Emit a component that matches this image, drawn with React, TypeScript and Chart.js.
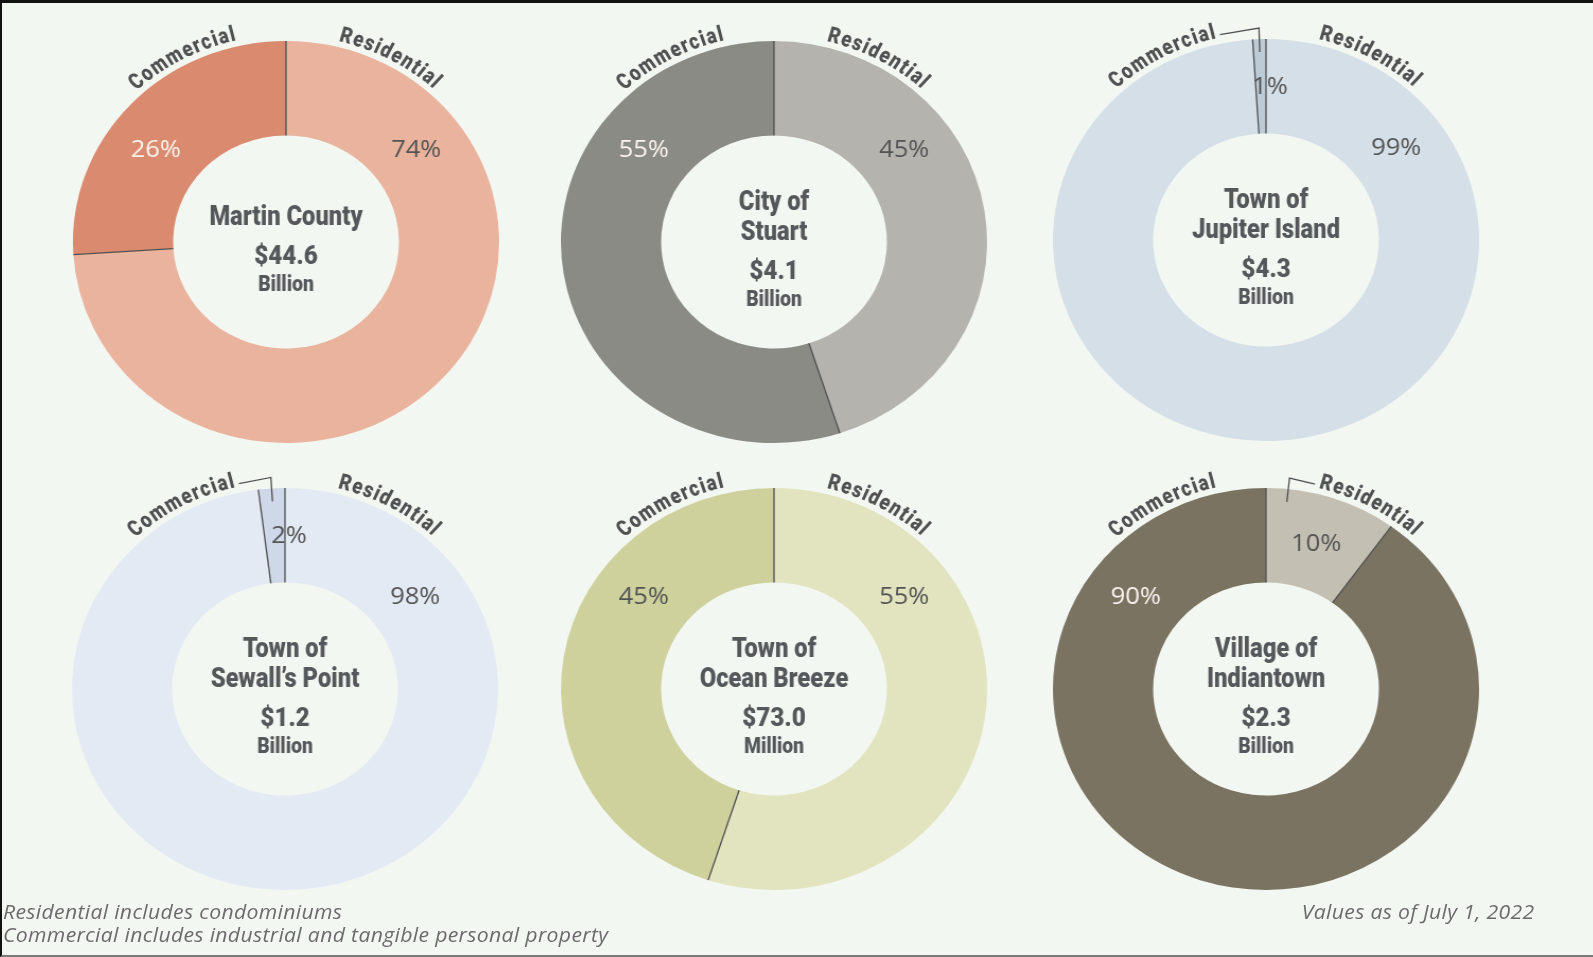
import React, { useEffect, useRef } from "react";
import { Chart, registerables } from "chart.js";

Chart.register(...registerables);

// ---------- data ----------
const segmentNames = ["Residential", "Commercial"];
const placeNameLines = [
  ["Martin County"],
  ["City of", "Stuart"],
  ["Town of", "Jupiter Island"],
  ["Town of", "Sewall\u2019s Point"],
  ["Town of", "Ocean Breeze"],
  ["Village of", "Indiantown"],
];
const totalAmounts = ["$44.6", "$4.1", "$4.3", "$1.2", "$73.0", "$2.3"];
const totalUnits = ["Billion", "Billion", "Billion", "Billion", "Million", "Billion"];
const residentialPct = [74, 45, 99, 98, 55, 10];
const commercialPct = [26, 55, 1, 2, 45, 90];
const footnoteLines = [
  "Residential includes condominiums",
  "Commercial includes industrial and tangible personal property",
];
const asOfNote = "Values as of July 1, 2022";

// ---------- styles / layout ----------
const residentialColors = ["#e9b39d", "#b5b3ad", "#d5dfe7", "#e4eaf4", "#e2e3bf", "#c4bfb3"];
const commercialColors = ["#d98a6f", "#8b8b85", "#bdcbd7", "#cfd8e9", "#cfd19d", "#7b7361"];
const chartCenters = [
  [285.5, 242],
  [774, 242],
  [1266, 240],
  [285, 689],
  [774, 689],
  [1266, 689],
];
const CANVAS = 480;
const STRETCH = 1.06;
const NARROW = 'Roboto, "DejaVu Sans", sans-serif';
const TEXT_DARK = "#55585a";
const LINE_COLOR = "#4f5151";
const DEG = Math.PI / 180;

function luminance(hex: string) {
  const n = parseInt(hex.slice(1), 16);
  const r = (n >> 16) & 255, g = (n >> 8) & 255, b = n & 255;
  return 0.299 * r + 0.587 * g + 0.114 * b;
}

function polar(cx: number, cy: number, r: number, a: number) {
  return [cx + r * Math.sin(a), cy - r * Math.cos(a)];
}

function drawCondensed(ctx: CanvasRenderingContext2D, text: string, x: number, y: number, c: number) {
  ctx.save();
  ctx.translate(x, y);
  ctx.scale(c, 1);
  ctx.fillText(text, 0, 0);
  ctx.restore();
}

function drawArcText(
  ctx: CanvasRenderingContext2D,
  text: string,
  cx: number,
  cy: number,
  r: number,
  centerAngle: number,
  spacing: number,
  c: number
) {
  const chars = [...text];
  const widths = chars.map((ch) => ctx.measureText(ch).width * c);
  const total = widths.reduce((s, w) => s + w, 0) + spacing * (chars.length - 1);
  const start = centerAngle - total / (2 * r);
  let a = start;
  ctx.textAlign = "center";
  ctx.textBaseline = "alphabetic";
  chars.forEach((ch, i) => {
    const w = widths[i];
    const ac = a + w / 2 / r;
    const [x, y] = polar(cx, cy, r, ac);
    ctx.save();
    ctx.translate(x, y);
    ctx.rotate(ac);
    ctx.scale(c, 1);
    ctx.fillText(ch, 0, 0);
    ctx.restore();
    a += (w + spacing) / r;
  });
  return { start, end: start + total / r };
}

function makeOverlay(idx: number) {
  return {
    id: "overlay" + idx,
    afterDatasetsDraw(chart: any) {
      const ctx: CanvasRenderingContext2D = chart.ctx;
      const meta = chart.getDatasetMeta(0);
      const arcs = meta.data.map((el: any) =>
        el.getProps(["x", "y", "startAngle", "endAngle", "innerRadius", "outerRadius"], true)
      );
      const values: number[] = chart.data.datasets[0].data;
      const colors: string[] = chart.data.datasets[0].backgroundColor;
      const cx = arcs[0].x, cy = arcs[0].y;
      const outer = arcs[0].outerRadius, inner = arcs[0].innerRadius;
      const mid = (outer + inner) / 2;
      ctx.save();

      // radial dividers
      ctx.strokeStyle = LINE_COLOR;
      ctx.lineWidth = 1.3;
      arcs.forEach((arc: any) => {
        const a = arc.startAngle + Math.PI / 2;
        const [x1, y1] = polar(cx, cy, inner, a);
        const [x2, y2] = polar(cx, cy, outer, a);
        ctx.beginPath();
        ctx.moveTo(x1, y1);
        ctx.lineTo(x2, y2);
        ctx.stroke();
      });

      // percentage labels
      ctx.font = '500 24px "Open Sans", sans-serif';
      ctx.textAlign = "center";
      ctx.textBaseline = "middle";
      arcs.forEach((arc: any, i: number) => {
        const v = values[i];
        const s = arc.startAngle + Math.PI / 2;
        const e = arc.endAngle + Math.PI / 2;
        let x: number, y: number;
        if (v < 5) {
          x = cx + 4 / STRETCH;
          y = cy - mid;
        } else if (v < 20) {
          [x, y] = polar(cx, cy, mid, (s + e) / 2);
        } else {
          const a = i === 0 ? 53 * DEG : -53 * DEG;
          [x, y] = polar(cx, cy, mid, a);
        }
        ctx.fillStyle = luminance(colors[i]) < 170 ? "#fbf3ee" : "#525454";
        ctx.fillText(v + "%", x, y + 1);
      });

      // curved segment names + leaders
      ctx.font = "900 22px " + NARROW;
      ctx.fillStyle = "#4e5051";
      const rText = outer + 6;
      arcs.forEach((arc: any, i: number) => {
        const ang = i === 0 ? 28 * DEG : -28 * DEG;
        const ext = drawArcText(ctx, chart.data.labels[i], cx, cy, rText, ang, 1.3, 0.8);
        const v = values[i];
        if (v < 15) {
          const s = arc.startAngle + Math.PI / 2;
          const e = arc.endAngle + Math.PI / 2;
          const half = Math.min((e - s) / 2, 6 * DEG);
          const target = i === 0 ? s + half : e - half;
          const aStart = i === 0 ? ext.start - 4 / rText : ext.end + 4 / rText;
          const [ax, ay] = polar(cx, cy, outer + 9, aStart);
          const [bx, by] = polar(cx, cy, outer + 11, target);
          const [qx, qy] = polar(cx, cy, outer - 13, target);
          ctx.strokeStyle = LINE_COLOR;
          ctx.lineWidth = 1.3;
          ctx.beginPath();
          ctx.moveTo(ax, ay);
          ctx.lineTo(bx, by);
          ctx.lineTo(qx, qy);
          ctx.stroke();
        }
      });

      // center text
      ctx.fillStyle = TEXT_DARK;
      ctx.textAlign = "center";
      ctx.textBaseline = "alphabetic";
      const lines: string[] = placeNameLines[idx];
      const base = lines.length === 1 ? cy - 17 : cy - 32;
      ctx.font = "900 28px " + NARROW;
      lines.forEach((ln, k) => {
        drawCondensed(ctx, ln, cx, base + k * 30, 0.8);
      });
      const last = base + (lines.length - 1) * 30;
      ctx.font = "900 26px " + NARROW;
      drawCondensed(ctx, totalAmounts[idx], cx, last + 39, 0.88);
      ctx.font = "900 22px " + NARROW;
      drawCondensed(ctx, totalUnits[idx], cx, last + 66, 0.83);

      ctx.restore();
    },
  };
}

function Donut({ idx }: { idx: number }) {
  const ref = useRef<HTMLCanvasElement>(null);
  useEffect(() => {
    const chart = new Chart(ref.current as HTMLCanvasElement, {
      type: "doughnut",
      data: {
        labels: segmentNames,
        datasets: [
          {
            data: [residentialPct[idx], commercialPct[idx]],
            backgroundColor: [residentialColors[idx], commercialColors[idx]],
            borderWidth: 0,
          },
        ],
      },
      options: {
        responsive: false,
        animation: false,
        events: [],
        radius: 201,
        cutout: "53%",
        layout: { padding: 0 },
        plugins: { legend: { display: false }, tooltip: { enabled: false } },
      } as any,
      plugins: [makeOverlay(idx)],
    });
    return () => chart.destroy();
  }, [idx]);
  const [cx, cy] = chartCenters[idx];
  return (
    <canvas
      ref={ref}
      width={CANVAS}
      height={CANVAS}
      style={{
        position: "absolute",
        left: cx - CANVAS / 2,
        top: cy - CANVAS / 2,
        width: CANVAS,
        height: CANVAS,
        transform: `scaleX(${STRETCH})`,
        transformOrigin: "50% 50%",
      }}
    />
  );
}

const noteStyle: React.CSSProperties = {
  position: "absolute",
  top: 900,
  fontFamily: '"Open Sans", sans-serif',
  fontStyle: "italic",
  fontWeight: 400,
  fontSize: 20,
  lineHeight: "23px",
  letterSpacing: "0.3px",
  color: "#6b6b6b",
  whiteSpace: "nowrap",
};

export default function App() {
  return (
    <div
      style={{
        position: "absolute",
        left: 0,
        top: 0,
        width: 1593,
        height: 957,
        boxSizing: "border-box",
        background: "#f3f7f2",
        borderTop: "3px solid #111",
        borderLeft: "2px solid #111",
        borderBottom: "2px solid #7a7a7a",
        overflow: "hidden",
      }}
    >
      <div style={{ position: "absolute", left: -2, top: -3, width: 1593, height: 957 }}>
        {residentialPct.map((_, i) => (
          <Donut key={i} idx={i} />
        ))}
        <div
          style={{
            ...noteStyle,
            left: 3,
            transform: `scaleX(${STRETCH})`,
            transformOrigin: "0 0",
          }}
        >
          {footnoteLines.map((t, i) => (
            <div key={i}>{t}</div>
          ))}
        </div>
        <div
          style={{
            ...noteStyle,
            right: 58,
            transform: `scaleX(${STRETCH})`,
            transformOrigin: "100% 0",
          }}
        >
          {asOfNote}
        </div>
      </div>
    </div>
  );
}
